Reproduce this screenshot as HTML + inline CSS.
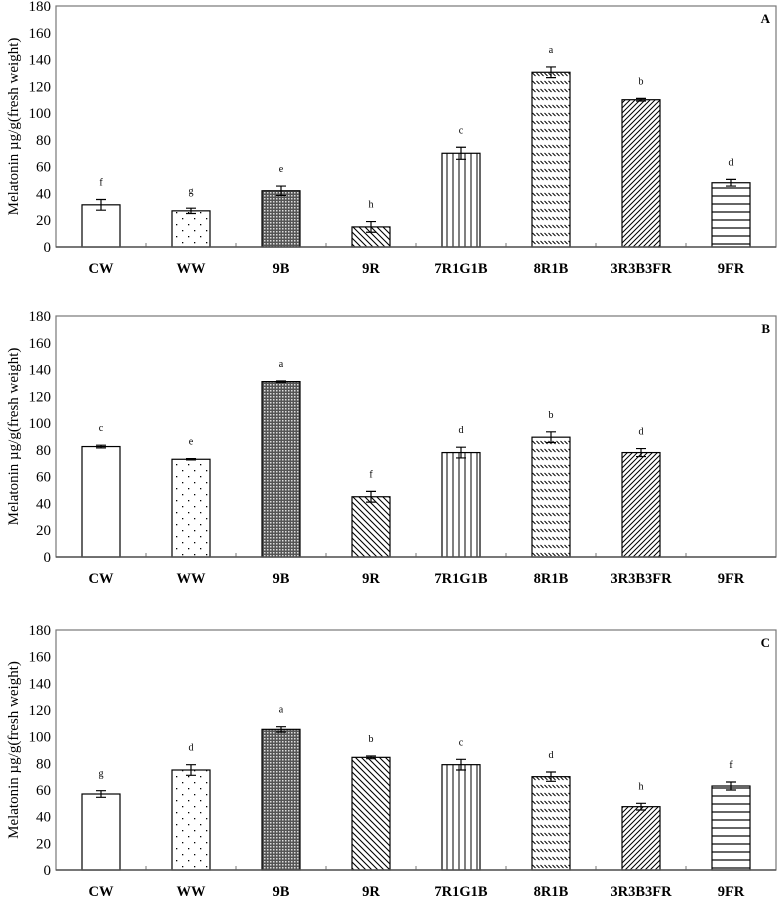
<!DOCTYPE html>
<html><head><meta charset="utf-8"><style>
html,body{margin:0;padding:0;background:#fff;}
svg{display:block;font-family:"Liberation Serif",serif;}
</style></head><body>
<svg id="chart" width="784" height="902" viewBox="0 0 784 902" xmlns="http://www.w3.org/2000/svg">
<defs>
<pattern id="p-dots" width="12" height="12" patternUnits="userSpaceOnUse"><rect width="12" height="12" fill="#fff"/><rect x="2" y="2" width="1.3" height="1.3" fill="#000"/><rect x="8" y="8" width="1.3" height="1.3" fill="#000"/></pattern>
<pattern id="p-dense" width="3" height="3" patternUnits="userSpaceOnUse"><rect width="3" height="3" fill="#555"/><rect width="1.5" height="1.5" fill="#ddd"/></pattern>
<pattern id="p-diag" width="6" height="6" patternUnits="userSpaceOnUse"><rect width="6" height="6" fill="#fff"/><path d="M0,0 L6,6 M-3,3 L3,9 M3,-3 L9,3" stroke="#000" stroke-width="1.1"/></pattern>
<pattern id="p-vert" width="6" height="6" patternUnits="userSpaceOnUse"><rect width="6" height="6" fill="#fff"/><path d="M3,0 L3,6" stroke="#000" stroke-width="1"/></pattern>
<pattern id="p-dash" width="4" height="8" patternUnits="userSpaceOnUse"><rect width="4" height="8" fill="#fff"/><path d="M0.5,1 L3.5,4" stroke="#000" stroke-width="1"/></pattern>
<pattern id="p-fdiag" width="5" height="5" patternUnits="userSpaceOnUse"><rect width="5" height="5" fill="#fff"/><path d="M0,5 L5,0 M-2,2 L2,-2 M3,7 L7,3" stroke="#000" stroke-width="1"/></pattern>
<pattern id="p-horiz" width="8" height="8" patternUnits="userSpaceOnUse"><rect width="8" height="8" fill="#fff"/><path d="M0,4 L8,4" stroke="#000" stroke-width="1.2"/></pattern>
</defs>
</svg>
<script>
const categories = ["CW","WW","9B","9R","7R1G1B","8R1B","3R3B3FR","9FR"];
const valuesA = [31.5,27,42,15,70,130.5,110,48];
const errorsA = [4,2,3.5,4,4.5,4,1,2.5];
const lettersA = ["f","g","e","h","c","a","b","d"];
const valuesB = [82.5,73,131,45,78,89.5,78,0];
const errorsB = [1,0.5,0.5,4,4,4,3,0];
const lettersB = ["c","e","a","f","d","b","d",""];
const valuesC = [57,75,105.5,84.5,79,70,47.5,63];
const errorsC = [2.5,4,2,1,4,3.5,2.5,3];
const lettersC = ["g","d","a","b","c","d","h","f"];
const yTicks = [0,20,40,60,80,100,120,140,160,180];
const panelNames = ["A","B","C"];

const fills = ["#fff","url(#p-dots)","url(#p-dense)","url(#p-diag)","url(#p-vert)","url(#p-dash)","url(#p-fdiag)","url(#p-horiz)"];
const svg = document.getElementById('chart');
const NS = "http://www.w3.org/2000/svg";
function mk(tag, attrs, parent){const e=document.createElementNS(NS,tag);for(const k in attrs)e.setAttribute(k,attrs[k]);(parent||svg).appendChild(e);return e;}

const panels = [
 {top:6,bottom:247,labelY:273,vals:valuesA,errs:errorsA,lets:lettersA},
 {top:316,bottom:557,labelY:583,vals:valuesB,errs:errorsB,lets:lettersB},
 {top:630,bottom:870,labelY:896,vals:valuesC,errs:errorsC,lets:lettersC}
];
const left=56, right=776, bw=38;
panels.forEach((p,pi)=>{
  const g = mk('g',{});
  
  
  const y = v => p.bottom - v*(p.bottom-p.top)/180;
  const step = (right-left)/categories.length;
  const x = i => left + step*(i+0.5);
  const frame = mk('rect',{x:left,y:p.top,width:right-left,height:p.bottom-p.top,fill:'none',stroke:'#777','stroke-width':1.2},g);
  
  
  yTicks.forEach(t=>{
    const tl = mk('text',{x:left-5,y:y(t)+5,'text-anchor':'end','font-size':15,fill:'#000'},g);
    tl.textContent=t;
    
    
  });
  const yt = mk('text',{x:0,y:0,'text-anchor':'middle','font-size':15,transform:`translate(18,${(p.top+p.bottom)/2}) rotate(-90)`},g);
  yt.textContent='Melatonin \u00b5g/g(fresh weight)';
  
  
  const pl = mk('text',{x:770,y:p.top+17,'text-anchor':'end','font-size':13,'font-weight':'bold'},g);
  pl.textContent=panelNames[pi];
  
  
  for(let k=1;k<categories.length;k++){
    mk('line',{x1:left+step*k,x2:left+step*k,y1:p.bottom,y2:p.bottom-4,stroke:'#777'},g);
  }
  categories.forEach((c,i)=>{
    const v=p.vals[i], e=p.errs[i];
    if(v>0){
      const b = mk('rect',{x:x(i)-bw/2,y:y(v),width:bw,height:p.bottom-y(v),fill:fills[i],stroke:'#000','stroke-width':1.2},g);
      
      
      const eb = mk('path',{d:`M${x(i)},${y(v+e)} V${y(v-e)} M${x(i)-5},${y(v+e)} H${x(i)+5} M${x(i)-5},${y(v-e)} H${x(i)+5}`,stroke:'#000','stroke-width':1.2,fill:'none'},g);
      
      
    }
    if(p.lets[i]){
      const lt = mk('text',{x:x(i),y:y(v+e)-14,'text-anchor':'middle','font-size':10},g);
      lt.textContent=p.lets[i];
      
      
    }
    const xl = mk('text',{x:x(i),y:p.labelY,'text-anchor':'middle','font-size':14.5,'font-weight':'bold'},g);
    xl.textContent=c;
    
    
  });
  mk('line',{x1:left,x2:right,y1:p.bottom,y2:p.bottom,stroke:'#555','stroke-width':1.5},g);
});
</script>
</body></html>
